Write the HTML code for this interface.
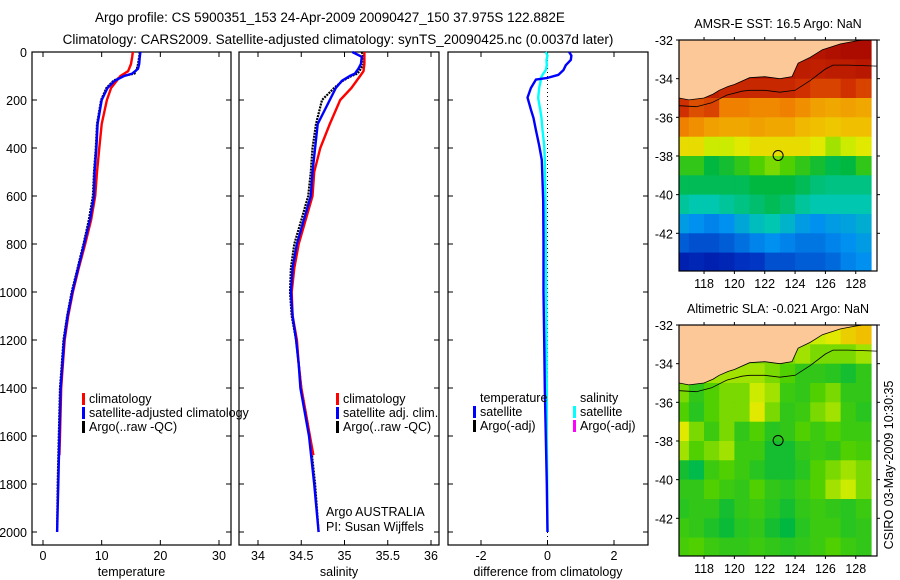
<!DOCTYPE html>
<html><head><meta charset="utf-8"><style>
body{margin:0;background:#fff}
svg{display:block;font-family:"Liberation Sans",sans-serif}
</style></head><body>
<svg id="c" width="900" height="580" viewBox="0 0 900 580">
<text x="330" y="22" font-size="13.5" text-anchor="middle">Argo profile: CS 5900351_153 24-Apr-2009 20090427_150 37.975S 122.882E</text>
<text x="338" y="44" font-size="13.5" text-anchor="middle">Climatology: CARS2009. Satellite-adjusted climatology: synTS_20090425.nc (0.0037d later)</text>
<text transform="translate(893,465) rotate(-90)" font-size="12.5" text-anchor="middle">CSIRO 03-May-2009 10:30:35</text>
</svg>
<script>
// ---- profile data ----
const tDepth=[0,20,50,80,100,150,200,300,400,500,600,700,800,900,1000,1100,1200,1300,1400,1500,1600,1680];
const tClim=[15.3,15.2,15.0,14.5,13.2,11.6,10.9,10.0,9.6,9.2,8.9,8.2,7.2,6.1,5.1,4.3,3.7,3.4,3.1,3.0,2.9,2.8];
const tSatDepth=[0,20,50,70,90,100,120,150,200,300,400,500,600,700,800,900,1000,1100,1200,1300,1400,1500,1600,1800,2000];
const tSat=[16.6,16.5,16.4,16.2,15.2,13.8,12.2,11.0,10.0,9.3,9.1,8.8,8.7,8.0,7.0,6.0,5.0,4.2,3.6,3.3,3.0,2.9,2.8,2.6,2.4];
const tArgo=[16.5,16.4,16.2,16.0,15.6,13.6,12.0,10.8,9.9,9.2,9.0,8.7,8.5,7.8,6.9,5.9,4.9,4.1,3.5,3.2,2.9,2.8,2.7,2.5,2.4];
const sClim=[35.23,35.23,35.23,35.22,35.18,35.08,34.95,34.83,34.72,34.65,34.63,34.55,34.47,34.42,34.39,34.40,34.45,34.47,34.50,34.55,34.60,34.64];
const sSat=[35.09,35.20,35.19,35.16,35.12,35.06,34.97,34.90,34.83,34.69,34.66,34.63,34.61,34.53,34.45,34.40,34.38,34.40,34.44,34.47,34.49,34.54,34.59,34.65,34.70];
const sArgo=[35.20,35.22,35.22,35.19,35.15,35.08,34.98,34.88,34.74,34.67,34.63,34.61,34.58,34.50,34.42,34.38,34.37,34.39,34.44,34.47,34.50,34.55,34.60,34.66,34.70];
const dDepth=[0,15,33,55,75,95,108,115,150,190,200,240,275,325,390,450,620,800,1000,1200,1400,1600,1800,2000];
const dTemp=[0.65,0.72,0.7,0.55,0.48,0.33,0.0,-0.35,-0.5,-0.6,-0.58,-0.5,-0.42,-0.35,-0.25,-0.17,-0.13,-0.12,-0.12,-0.1,-0.08,-0.05,-0.02,0];
const dSal=[-0.05,0.0,-0.03,-0.02,-0.05,-0.15,-0.2,-0.2,-0.25,-0.28,-0.27,-0.22,-0.18,-0.15,-0.1,-0.08,-0.06,-0.05,-0.04,-0.03,-0.02,-0.02,-0.01,0];
const depthTicks=[0,200,400,600,800,1000,1200,1400,1600,1800,2000];
const tTicks=[0,10,20,30];
const sTicks=[34,34.5,35,35.5,36];
const sTickLabels=["34","34.5","35","35.5","36"];
const dTicks=[-2,0,2];
// ---- map data (rows lat -32.5..-43.5, cols lon 116.5..128.5) ----
const mapLons=[116.5,117.5,118.5,119.5,120.5,121.5,122.5,123.5,124.5,125.5,126.5,127.5,128.5];
const mapLats=[-32.5,-33.5,-34.5,-35.5,-36.5,-37.5,-38.5,-39.5,-40.5,-41.5,-42.5,-43.5];
const sstGrid=[
[0.95,0.95,0.95,0.95,0.95,0.95,0.95,0.95,0.95,0.95,0.96,0.97,0.97],
[0.95,0.95,0.95,0.95,0.95,0.95,0.95,0.94,0.93,0.92,0.93,0.93,0.94],
[0.92,0.92,0.92,0.9,0.9,0.9,0.9,0.9,0.88,0.86,0.86,0.88,0.86],
[0.88,0.85,0.86,0.8,0.8,0.79,0.79,0.8,0.78,0.76,0.75,0.76,0.75],
[0.8,0.78,0.76,0.75,0.75,0.76,0.75,0.75,0.73,0.72,0.71,0.72,0.72],
[0.68,0.68,0.64,0.64,0.66,0.68,0.68,0.68,0.68,0.66,0.62,0.64,0.66],
[0.55,0.55,0.5,0.52,0.55,0.58,0.6,0.58,0.55,0.52,0.49,0.5,0.55],
[0.48,0.48,0.48,0.48,0.48,0.5,0.5,0.5,0.48,0.45,0.44,0.44,0.44],
[0.42,0.4,0.4,0.42,0.44,0.46,0.48,0.46,0.42,0.4,0.4,0.4,0.4],
[0.32,0.3,0.28,0.3,0.34,0.38,0.4,0.36,0.32,0.3,0.32,0.33,0.35],
[0.22,0.2,0.2,0.22,0.25,0.28,0.3,0.28,0.26,0.26,0.28,0.3,0.32],
[0.1,0.12,0.1,0.12,0.15,0.16,0.2,0.2,0.22,0.22,0.24,0.28,0.3]];
const slaGrid=[
[0.62,0.62,0.62,0.62,0.62,0.62,0.62,0.62,0.63,0.64,0.66,0.7,0.72],
[0.6,0.6,0.6,0.6,0.6,0.6,0.6,0.6,0.62,0.6,0.6,0.6,0.62],
[0.6,0.6,0.62,0.62,0.62,0.62,0.6,0.58,0.55,0.55,0.54,0.52,0.55],
[0.6,0.55,0.58,0.6,0.6,0.64,0.62,0.56,0.55,0.58,0.6,0.55,0.55],
[0.58,0.54,0.58,0.6,0.6,0.66,0.6,0.55,0.56,0.6,0.62,0.56,0.54],
[0.66,0.6,0.56,0.6,0.55,0.58,0.54,0.55,0.58,0.56,0.58,0.56,0.56],
[0.62,0.58,0.6,0.62,0.56,0.56,0.52,0.52,0.55,0.56,0.55,0.58,0.57],
[0.52,0.49,0.56,0.58,0.56,0.54,0.52,0.52,0.54,0.58,0.6,0.62,0.6],
[0.55,0.55,0.58,0.56,0.55,0.58,0.55,0.54,0.56,0.58,0.62,0.64,0.6],
[0.54,0.55,0.55,0.52,0.55,0.56,0.54,0.52,0.55,0.56,0.55,0.54,0.56],
[0.56,0.55,0.53,0.51,0.54,0.55,0.52,0.5,0.54,0.56,0.56,0.54,0.55],
[0.57,0.58,0.56,0.55,0.55,0.56,0.55,0.54,0.55,0.56,0.58,0.56,0.55]];
const coastLon=[116.35,117,118,118.6,119,119.6,120,121,122,123,123.8,124.2,125,125.8,127,128,128.5,129.4];
const coastLat=[-35.0,-35.1,-35.0,-34.8,-34.6,-34.4,-34.3,-33.95,-33.9,-34.0,-33.9,-33.2,-32.9,-32.5,-32.2,-32.05,-32.0,-32.0];
const shelfLon=[116.35,117.5,118.5,119.5,120.5,121,122,123,124,125,126,126.5,127.5,129.4];
const shelfLat=[-35.4,-35.45,-35.25,-34.85,-34.65,-34.6,-34.6,-34.7,-34.6,-34.1,-33.5,-33.3,-33.3,-33.35];
const mapLonTicks=[118,120,122,124,126,128];
const mapLatTicks=[-32,-34,-36,-38,-40,-42];
const argoLon=122.882, argoLat=-37.975;

const svg=document.getElementById('c');
const NS='http://www.w3.org/2000/svg';
function mk(tag,attrs,parent){const e=document.createElementNS(NS,tag);for(const k in attrs)e.setAttribute(k,attrs[k]);(parent||svg).appendChild(e);return e;}
function lin(d0,d1,r0,r1){return v=>r0+(v-d0)*(r1-r0)/(d1-d0);}
const yD=lin(0,2000,52,532);

function panel(name,x0,x1,xs,xt,xtl,xlabel,withY){
  const g=mk('g',{});
  
  
  const fr=mk('rect',{x:x0,y:52,width:x1-x0,height:493,fill:'none',stroke:'#000','stroke-width':1.2},g);
  
  
  depthTicks.forEach(d=>{
    const y=yD(d);
    mk('line',{x1:x0,x2:x0+5,y1:y,y2:y,stroke:'#000'},g);
    mk('line',{x1:x1-5,x2:x1,y1:y,y2:y,stroke:'#000'},g);
    if(withY){const t=mk('text',{x:x0-5,y:y+5,'font-size':12.5,'text-anchor':'end'},g);t.textContent=d;
      
      }
  });
  xt.forEach((v,i)=>{
    const x=xs(v);
    mk('line',{x1:x,x2:x,y1:545,y2:540,stroke:'#000'},g);
    mk('line',{x1:x,x2:x,y1:52,y2:57,stroke:'#000'},g);
    const t=mk('text',{x:x,y:560,'font-size':12.5,'text-anchor':'middle'},g);t.textContent=xtl[i];
    
    
  });
  const lb=mk('text',{x:(x0+x1)/2,y:576,'font-size':12.5,'text-anchor':'middle'},g);lb.textContent=xlabel;
  
  
  return g;
}
function line(g,xs,vals,deps,color,w,nm,dash){
  const p=vals.map((v,i)=>xs(v).toFixed(1)+','+yD(deps[i]).toFixed(1)).join(' ');
  const a={points:p,fill:'none',stroke:color,'stroke-width':w,'stroke-linejoin':'round'};
  if(dash)a['stroke-dasharray']=dash;
  const l=mk('polyline',a,g);
  
  
}
function legend(g,x,y,items){
  items.forEach((it,i)=>{
    const yy=y+i*14;
    if(it[0]){const r=mk('rect',{x:x,y:yy-10,width:3,height:12,fill:it[0]},g);
      
      }
    const t=mk('text',{x:x+7,y:yy,'font-size':12.5},g);t.textContent=it[1];
    
    
  });
}
// Panel 1 temperature
const xT=lin(0,30,43,219);
const g1=panel('temperature-panel',32,231,xT,tTicks,tTicks.map(String),'temperature',true);
line(g1,xT,tArgo,tSatDepth,'#000',2.2,'argo-temperature','2 1');
line(g1,xT,tClim,tDepth,'#f00',2.4,'climatology-temperature');
line(g1,xT,tSat,tSatDepth,'#00f',2.4,'satellite-temperature');
legend(g1,82,403,[['#f00','climatology'],['#00f','satellite-adjusted climatology'],['#000','Argo(..raw -QC)']]);
// Panel 2 salinity
const xS=lin(34,36,258,431);
const g2=panel('salinity-panel',239,439,xS,sTicks,sTickLabels,'salinity',false);
line(g2,xS,sArgo,tSatDepth,'#000',2.2,'argo-salinity','2 1');
line(g2,xS,sClim,tDepth,'#f00',2.4,'climatology-salinity');
line(g2,xS,sSat,tSatDepth,'#00f',2.4,'satellite-salinity');
legend(g2,336,403,[['#f00','climatology'],['#00f','satellite adj. clim.'],['#000','Argo(..raw -QC)']]);
[['Argo AUSTRALIA',516],['PI: Susan Wijffels',531]].forEach(a=>{const t=mk('text',{x:326,y:a[1],'font-size':12.5},g2);t.textContent=a[0];
  
  });
// Panel 3 difference
const xDf=lin(-2,2,481,614);
const g3=panel('difference-panel',448,648,xDf,dTicks,dTicks.map(String),'difference from climatology',false);
const zl=mk('line',{x1:xDf(0),x2:xDf(0),y1:52,y2:545,stroke:'#000','stroke-dasharray':'1 3'},g3);


line(g3,xDf,dSal,dDepth,'#0ff',2.4,'salinity-difference');
line(g3,xDf,dTemp,dDepth,'#00f',2.4,'temperature-difference');
legend(g3,473,402,[[null,'temperature'],['#00f','satellite'],['#000','Argo(-adj)']]);
legend(g3,573,402,[[null,'salinity'],['#0ff','satellite'],['#f0f','Argo(-adj)']]);

// ---- maps ----
const stops=[[0,[0,0,140]],[0.15,[0,48,192]],[0.3,[0,144,240]],[0.4,[0,200,176]],[0.5,[0,184,64]],[0.58,[80,208,0]],[0.65,[224,240,0]],[0.72,[240,192,0]],[0.8,[240,128,0]],[0.88,[208,48,0]],[1,[160,0,0]]];
function cmap(v){v=Math.max(0,Math.min(1,v));for(let i=1;i<stops.length;i++){if(v<=stops[i][0]){const a=stops[i-1],b=stops[i],t=(v-a[0])/(b[0]-a[0]);return 'rgb('+a[1].map((c,k)=>Math.round(c+(b[1][k]-c)*t)).join(',')+')';}}return 'rgb(160,0,0)';}
const defs=mk('defs',{});
function map(name,title,grid,top){
  const x0=679,x1=877,y0=top,h=231;
  const xL=lin(116.35,129.4,x0,x1);
  const yL=lin(-32,-43.95,y0,y0+h);
  const cp=mk('clipPath',{id:'clip-'+name},defs);
  mk('rect',{x:x0,y:y0,width:x1-x0,height:h},cp);
  const g=mk('g',{});
  
  
  const inner=mk('g',{'clip-path':'url(#clip-'+name+')'},g);
  const cw=xL(1)-xL(0), ch=yL(-33)-yL(-32);
  grid.forEach((row,r)=>row.forEach((v,c)=>{
    const cx=xL(mapLons[c]), cy=yL(mapLats[r]);
    const cell=mk('rect',{x:(cx-cw/2).toFixed(1),y:(cy-ch/2).toFixed(1),width:(cw+0.6).toFixed(1),height:(ch+0.6).toFixed(1),fill:cmap(v)},inner);
    
    
  }));
  let pts=coastLon.map((l,i)=>xL(l).toFixed(1)+','+yL(coastLat[i]).toFixed(1));
  pts.push(xL(129.4)+','+yL(-32),xL(116.35)+','+yL(-32));
  const land=mk('polygon',{points:pts.join(' '),fill:'#fcc898',stroke:'#000','stroke-width':0.8},inner);
  
  
  const sh=mk('polyline',{points:shelfLon.map((l,i)=>xL(l).toFixed(1)+','+yL(shelfLat[i]).toFixed(1)).join(' '),fill:'none',stroke:'#000','stroke-width':0.8},inner);
  
  
  const fr=mk('rect',{x:x0,y:y0,width:x1-x0,height:h,fill:'none',stroke:'#000','stroke-width':1.2},g);
  
  
  const mk1=mk('circle',{cx:xL(argoLon),cy:yL(argoLat),r:5,fill:'none',stroke:'#000','stroke-width':1},g);
  
  
  mapLonTicks.forEach(l=>{const x=xL(l);
    mk('line',{x1:x,x2:x,y1:y0,y2:y0-3,stroke:'#000'},g);
    mk('line',{x1:x,x2:x,y1:y0+h,y2:y0+h+3,stroke:'#000'},g);
    const t=mk('text',{x:x,y:y0+h+17,'font-size':12.5,'text-anchor':'middle'},g);t.textContent=l;
    
    });
  mapLatTicks.forEach(l=>{const y=yL(l);
    mk('line',{x1:x0,x2:x0-3,y1:y,y2:y,stroke:'#000'},g);
    mk('line',{x1:x1,x2:x1+3,y1:y,y2:y,stroke:'#000'},g);
    const t=mk('text',{x:x0-6,y:y+5,'font-size':12.5,'text-anchor':'end'},g);t.textContent=l;
    
    });
  const tt=mk('text',{x:(x0+x1)/2,y:y0-12,'font-size':12.5,'text-anchor':'middle'},g);tt.textContent=title;
  
  
}
map('sst-map','AMSR-E SST: 16.5 Argo: NaN',sstGrid,40);
map('sla-map','Altimetric SLA: -0.021 Argo: NaN',slaGrid,325);
</script>
</body></html>
